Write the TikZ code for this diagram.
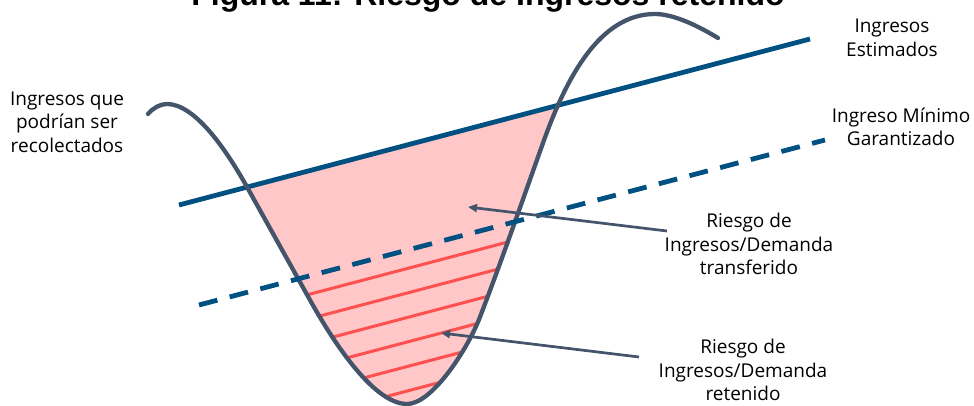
\documentclass[tikz,border=0pt]{standalone}
\usepackage{fontspec}
\setmainfont{Open Sans}
\newfontfamily\titlefont{Liberation Sans}
\usetikzlibrary{arrows.meta}
\definecolor{curvec}{HTML}{44546A}
\definecolor{bluec}{HTML}{005082}
\definecolor{pinkc}{HTML}{FFC7C7}
\definecolor{redc}{HTML}{FF5050}
\begin{document}
\begin{tikzpicture}[x=1pt,y=-1pt,
  lbl/.style={align=center, font=\fontsize{19}{23.5}\selectfont, inner sep=0pt},
  ptr/.style={draw=curvec, line width=2.7pt, -{Stealth[length=9pt,width=8pt,inset=0pt]}},
  estline/.style={draw=bluec, line width=4.8pt},
  minline/.style={draw=bluec, line width=4.8pt, dash pattern=on 19pt off 12.7pt},
  hatchline/.style={draw=redc, line width=3pt},
  curveline/.style={draw=curvec, line width=4.3pt, line cap=round}]
\useasboundingbox (0,0) rectangle (974,406);
\clip (0,0) rectangle (974,406);
% title (cut off at the top)
\node[anchor=base, font=\titlefont\bfseries\fontsize{32}{36}\selectfont, inner sep=0pt] (title) at (488,6) {Figura 11: Riesgo de Ingresos retenido};
% pink area and hatching
\begin{scope}
  \clip (100,225.8) -- (900,15.3) -- (900,500) -- (100,500) -- cycle;
  \clip (148,114) .. controls (153,108) and (160,104) .. (167,104)
    .. controls (195,104) and (226.4,150) .. (247,187)
    .. controls (268,224.6) and (289,262.4) .. (310,300)
    .. controls (329.4,335) and (372,404) .. (407,404)
    .. controls (432,404) and (467.4,349.7) .. (480,317)
    .. controls (501.5,261) and (522.8,199.5) .. (543,143)
    .. controls (566.5,77) and (600,14) .. (655,14)
    .. controls (675,14) and (700.9,27.6) .. (718,38) -- cycle;
  \fill[pinkc] (0,0) rectangle (974,406);
  \foreach \c in {270.4,294.9,319.4,343.9,368.4,392.9}
    \draw[hatchline] (280,{\c+31.6}) -- (560,{\c-42.1});
\end{scope}
% lines
\coordinate (e1) at (179,205);
\coordinate (e2) at (810,39);
\draw[estline] (e1) -- (e2);
\draw[curveline] (148,114) .. controls (153,108) and (160,104) .. (167,104)
    .. controls (195,104) and (226.4,150) .. (247,187)
    .. controls (268,224.6) and (289,262.4) .. (310,300)
    .. controls (329.4,335) and (372,404) .. (407,404)
    .. controls (432,404) and (467.4,349.7) .. (480,317)
    .. controls (501.5,261) and (522.8,199.5) .. (543,143)
    .. controls (566.5,77) and (600,14) .. (655,14)
    .. controls (675,14) and (700.9,27.6) .. (718,38);
\coordinate (m1) at (199,305);
\coordinate (m2) at (825,140);
\draw[minline] (m1) -- (m2);
% labels
\node[lbl] (recol) at (67,122) {Ingresos que\\podrían ser\\recolectados};
\node[lbl] (estim) at (892,38) {Ingresos\\Estimados};
\node[lbl] (minimo) at (901,127) {Ingreso Mínimo\\Garantizado};
\node[lbl] (transf) at (749,244) {Riesgo de\\Ingresos/Demanda\\transferido};
\node[lbl] (reten) at (743,370) {Riesgo de\\Ingresos/Demanda\\retenido};
% arrows
\coordinate (t1) at (667,231);
\coordinate (h1) at (468,207);
\coordinate (t2) at (639,357);
\coordinate (h2) at (441,333);
\draw[ptr] (t1) -- (h1);
\draw[ptr] (t2) -- (h2);
\end{tikzpicture}
\end{document}
